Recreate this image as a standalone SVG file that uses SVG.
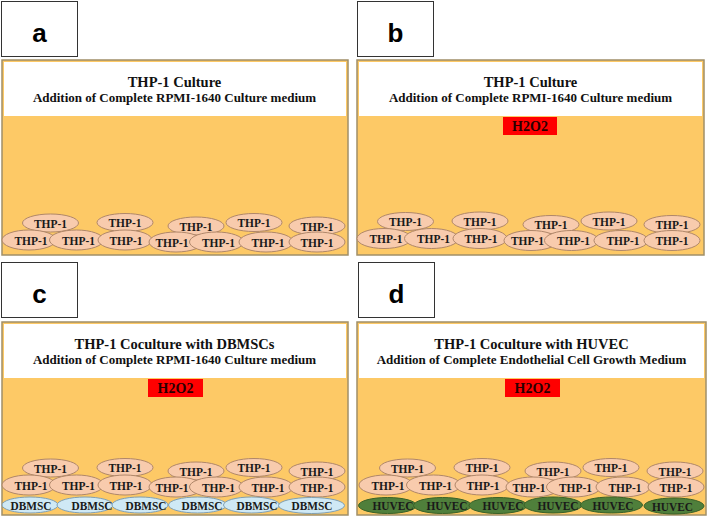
<svg xmlns="http://www.w3.org/2000/svg" width="709" height="518" viewBox="0 0 709 518">
<style>
.lbl{fill:#fff;stroke:#333;stroke-width:1}
.lt{font-family:"Liberation Sans",Arial,sans-serif;font-weight:bold;font-size:26px;fill:#000;text-anchor:middle}
.frame{fill:#fdc966;stroke:#a08f68;stroke-width:1.5}
.hdr{fill:#fff}
.t1{font-family:"Liberation Serif","Times New Roman",serif;font-weight:bold;font-size:14.5px;fill:#111;text-anchor:middle}
.t2{font-family:"Liberation Serif","Times New Roman",serif;font-weight:bold;font-size:13px;fill:#111;text-anchor:middle}
.h2o2{fill:#ff0000}
.ht{font-family:"Liberation Serif","Times New Roman",serif;font-weight:bold;font-size:14px;fill:#2a0000;text-anchor:middle}
.thp{fill:#f8cbad;stroke:#b0876a;stroke-width:1}
.dbm{fill:#cfe9f5;stroke:#7f9fb3;stroke-width:1}
.huv{fill:#4f7f3b;stroke:#3a6128;stroke-width:1}
.ct{font-family:"Liberation Serif","Times New Roman",serif;font-weight:bold;font-size:12.5px;fill:#1a1a1a;text-anchor:middle}
</style>
<g id="connectors"></g>

<g id="label-a"><rect class="lbl" x="1.5" y="1.5" width="76" height="55"/><text class="lt" x="39.5" y="42">a</text></g>
<g id="label-b"><rect class="lbl" x="357.5" y="1.5" width="76" height="55"/><text class="lt" x="395.5" y="42">b</text></g>
<g id="label-c"><rect class="lbl" x="1.5" y="262.5" width="76" height="55"/><text class="lt" x="39.5" y="303">c</text></g>
<g id="label-d"><rect class="lbl" x="358.5" y="262.5" width="76" height="55"/><text class="lt" x="396.5" y="303">d</text></g>

<!-- Panel a -->
<g id="panel-a">
<rect class="frame" x="2" y="60" width="346" height="195"/>
<rect class="hdr" x="4" y="62" width="342" height="54"/>
<text class="t1" x="174.5" y="87">THP-1 Culture</text>
<text class="t2" x="174.5" y="102">Addition of Complete RPMI-1640 Culture medium</text>
</g>
<g id="cells-a">
<g id="a-top1"><ellipse class="thp" cx="50.5" cy="223" rx="28" ry="9"/><text class="ct" x="50.5" y="227.5" textLength="33" lengthAdjust="spacingAndGlyphs">THP-1</text></g>
<g id="a-top2"><ellipse class="thp" cx="125" cy="222.5" rx="28" ry="9"/><text class="ct" x="125" y="227" textLength="33" lengthAdjust="spacingAndGlyphs">THP-1</text></g>
<g id="a-top3"><ellipse class="thp" cx="196" cy="226" rx="28" ry="9"/><text class="ct" x="196" y="230.5" textLength="33" lengthAdjust="spacingAndGlyphs">THP-1</text></g>
<g id="a-top4"><ellipse class="thp" cx="254" cy="222.5" rx="28" ry="9"/><text class="ct" x="254" y="227" textLength="33" lengthAdjust="spacingAndGlyphs">THP-1</text></g>
<g id="a-top5"><ellipse class="thp" cx="317" cy="226" rx="28" ry="9"/><text class="ct" x="317" y="230.5" textLength="33" lengthAdjust="spacingAndGlyphs">THP-1</text></g>
<g id="a-bot1"><ellipse class="thp" cx="29" cy="240" rx="27" ry="10"/><text class="ct" x="31" y="244.5" textLength="33" lengthAdjust="spacingAndGlyphs">THP-1</text></g>
<g id="a-bot2"><ellipse class="thp" cx="76.5" cy="240" rx="27" ry="10"/><text class="ct" x="78.5" y="244.5" textLength="33" lengthAdjust="spacingAndGlyphs">THP-1</text></g>
<g id="a-bot3"><ellipse class="thp" cx="125" cy="240" rx="27" ry="10"/><text class="ct" x="126" y="244.5" textLength="33" lengthAdjust="spacingAndGlyphs">THP-1</text></g>
<g id="a-bot4"><ellipse class="thp" cx="176" cy="242" rx="27" ry="10"/><text class="ct" x="172" y="246.5" textLength="33" lengthAdjust="spacingAndGlyphs">THP-1</text></g>
<g id="a-bot5"><ellipse class="thp" cx="216.5" cy="242" rx="27" ry="10"/><text class="ct" x="218.5" y="246.5" textLength="33" lengthAdjust="spacingAndGlyphs">THP-1</text></g>
<g id="a-bot6"><ellipse class="thp" cx="266" cy="242" rx="27" ry="10"/><text class="ct" x="268" y="246.5" textLength="33" lengthAdjust="spacingAndGlyphs">THP-1</text></g>
<g id="a-bot7"><ellipse class="thp" cx="317" cy="242" rx="28" ry="10"/><text class="ct" x="317" y="246.5" textLength="33" lengthAdjust="spacingAndGlyphs">THP-1</text></g>
</g>

<!-- Panel b -->
<g id="panel-b">
<rect class="frame" x="357" y="60" width="347" height="195"/>
<rect class="hdr" x="359" y="62" width="343" height="54"/>
<text class="t1" x="530.5" y="87">THP-1 Culture</text>
<text class="t2" x="530.5" y="102">Addition of Complete RPMI-1640 Culture medium</text>
</g>
<g id="h2o2-b"><rect class="h2o2" x="503" y="117" width="54" height="18"/><text class="ht" x="530" y="131">H2O2</text></g>
<g id="cells-b">
<g id="b-top1"><ellipse class="thp" cx="405.5" cy="221.5" rx="28" ry="9"/><text class="ct" x="405.5" y="226" textLength="33" lengthAdjust="spacingAndGlyphs">THP-1</text></g>
<g id="b-top2"><ellipse class="thp" cx="480" cy="221" rx="28" ry="9"/><text class="ct" x="480" y="225.5" textLength="33" lengthAdjust="spacingAndGlyphs">THP-1</text></g>
<g id="b-top3"><ellipse class="thp" cx="551" cy="224.5" rx="28" ry="9"/><text class="ct" x="551" y="229" textLength="33" lengthAdjust="spacingAndGlyphs">THP-1</text></g>
<g id="b-top4"><ellipse class="thp" cx="609" cy="221" rx="28" ry="9"/><text class="ct" x="609" y="225.5" textLength="33" lengthAdjust="spacingAndGlyphs">THP-1</text></g>
<g id="b-top5"><ellipse class="thp" cx="672" cy="224.5" rx="28" ry="9"/><text class="ct" x="672" y="229" textLength="33" lengthAdjust="spacingAndGlyphs">THP-1</text></g>
<g id="b-bot1"><ellipse class="thp" cx="384" cy="238.5" rx="27" ry="10"/><text class="ct" x="386" y="243" textLength="33" lengthAdjust="spacingAndGlyphs">THP-1</text></g>
<g id="b-bot2"><ellipse class="thp" cx="431.5" cy="238.5" rx="27" ry="10"/><text class="ct" x="433.5" y="243" textLength="33" lengthAdjust="spacingAndGlyphs">THP-1</text></g>
<g id="b-bot3"><ellipse class="thp" cx="480" cy="238.5" rx="27" ry="10"/><text class="ct" x="481" y="243" textLength="33" lengthAdjust="spacingAndGlyphs">THP-1</text></g>
<g id="b-bot4"><ellipse class="thp" cx="531" cy="240.5" rx="27" ry="10"/><text class="ct" x="527.5" y="245" textLength="33" lengthAdjust="spacingAndGlyphs">THP-1</text></g>
<g id="b-bot5"><ellipse class="thp" cx="571.5" cy="240.5" rx="27" ry="10"/><text class="ct" x="573.5" y="245" textLength="33" lengthAdjust="spacingAndGlyphs">THP-1</text></g>
<g id="b-bot6"><ellipse class="thp" cx="621" cy="240.5" rx="27" ry="10"/><text class="ct" x="623" y="245" textLength="33" lengthAdjust="spacingAndGlyphs">THP-1</text></g>
<g id="b-bot7"><ellipse class="thp" cx="672" cy="240.5" rx="28" ry="10"/><text class="ct" x="672" y="245" textLength="33" lengthAdjust="spacingAndGlyphs">THP-1</text></g>
</g>

<!-- Panel c -->
<g id="panel-c">
<rect class="frame" x="2" y="322" width="346" height="193"/>
<rect class="hdr" x="4" y="324" width="342" height="54"/>
<text class="t1" x="174.5" y="349">THP-1 Coculture with DBMSCs</text>
<text class="t2" x="174.5" y="364">Addition of Complete RPMI-1640 Culture medium</text>
</g>
<g id="h2o2-c"><rect class="h2o2" x="148" y="379" width="55" height="18"/><text class="ht" x="175.5" y="393">H2O2</text></g>
<g id="cells-c">
<g id="c-top1"><ellipse class="thp" cx="50.5" cy="468" rx="28" ry="9"/><text class="ct" x="50.5" y="472.5" textLength="33" lengthAdjust="spacingAndGlyphs">THP-1</text></g>
<g id="c-top2"><ellipse class="thp" cx="125" cy="467.5" rx="28" ry="9"/><text class="ct" x="125" y="472" textLength="33" lengthAdjust="spacingAndGlyphs">THP-1</text></g>
<g id="c-top3"><ellipse class="thp" cx="196" cy="471" rx="28" ry="9"/><text class="ct" x="196" y="475.5" textLength="33" lengthAdjust="spacingAndGlyphs">THP-1</text></g>
<g id="c-top4"><ellipse class="thp" cx="254" cy="467.5" rx="28" ry="9"/><text class="ct" x="254" y="472" textLength="33" lengthAdjust="spacingAndGlyphs">THP-1</text></g>
<g id="c-top5"><ellipse class="thp" cx="317" cy="471" rx="28" ry="9"/><text class="ct" x="317" y="475.5" textLength="33" lengthAdjust="spacingAndGlyphs">THP-1</text></g>
<g id="c-bot1"><ellipse class="thp" cx="29" cy="485" rx="27" ry="10"/><text class="ct" x="31" y="489.5" textLength="33" lengthAdjust="spacingAndGlyphs">THP-1</text></g>
<g id="c-bot2"><ellipse class="thp" cx="76.5" cy="485" rx="27" ry="10"/><text class="ct" x="78.5" y="489.5" textLength="33" lengthAdjust="spacingAndGlyphs">THP-1</text></g>
<g id="c-bot3"><ellipse class="thp" cx="125" cy="485" rx="27" ry="10"/><text class="ct" x="126" y="489.5" textLength="33" lengthAdjust="spacingAndGlyphs">THP-1</text></g>
<g id="c-bot4"><ellipse class="thp" cx="176" cy="487" rx="27" ry="10"/><text class="ct" x="172" y="491.5" textLength="33" lengthAdjust="spacingAndGlyphs">THP-1</text></g>
<g id="c-bot5"><ellipse class="thp" cx="216.5" cy="487" rx="27" ry="10"/><text class="ct" x="218.5" y="491.5" textLength="33" lengthAdjust="spacingAndGlyphs">THP-1</text></g>
<g id="c-bot6"><ellipse class="thp" cx="266" cy="487" rx="27" ry="10"/><text class="ct" x="268" y="491.5" textLength="33" lengthAdjust="spacingAndGlyphs">THP-1</text></g>
<g id="c-bot7"><ellipse class="thp" cx="317" cy="487" rx="28" ry="10"/><text class="ct" x="317" y="491.5" textLength="33" lengthAdjust="spacingAndGlyphs">THP-1</text></g>
<g id="c-dbm1"><ellipse class="dbm" cx="30" cy="505" rx="28" ry="8"/><text class="ct" x="31" y="509.5" textLength="41" lengthAdjust="spacingAndGlyphs">DBMSC</text></g>
<g id="c-dbm2"><ellipse class="dbm" cx="85" cy="505" rx="28" ry="8"/><text class="ct" x="92" y="509.5" textLength="41" lengthAdjust="spacingAndGlyphs">DBMSC</text></g>
<g id="c-dbm3"><ellipse class="dbm" cx="140" cy="505" rx="28" ry="8"/><text class="ct" x="146" y="509.5" textLength="41" lengthAdjust="spacingAndGlyphs">DBMSC</text></g>
<g id="c-dbm4"><ellipse class="dbm" cx="197.5" cy="505" rx="29" ry="8"/><text class="ct" x="202" y="509.5" textLength="41" lengthAdjust="spacingAndGlyphs">DBMSC</text></g>
<g id="c-dbm5"><ellipse class="dbm" cx="251.5" cy="505" rx="28" ry="8"/><text class="ct" x="257" y="509.5" textLength="41" lengthAdjust="spacingAndGlyphs">DBMSC</text></g>
<g id="c-dbm6"><ellipse class="dbm" cx="311.5" cy="505.5" rx="33" ry="8"/><text class="ct" x="312" y="510" textLength="41" lengthAdjust="spacingAndGlyphs">DBMSC</text></g>
</g>

<!-- Panel d -->
<g id="panel-d">
<rect class="frame" x="357" y="322" width="349" height="193"/>
<rect class="hdr" x="359" y="324" width="345" height="54"/>
<text class="t1" x="531.5" y="349">THP-1 Coculture with HUVEC</text>
<text class="t2" x="531.5" y="364">Addition of Complete Endothelial Cell Growth Medium</text>
</g>
<g id="h2o2-d"><rect class="h2o2" x="505" y="379" width="55" height="18"/><text class="ht" x="532.5" y="393">H2O2</text></g>
<g id="cells-d">
<g id="d-top1"><ellipse class="thp" cx="407.5" cy="468" rx="28" ry="9"/><text class="ct" x="407.5" y="472.5" textLength="33" lengthAdjust="spacingAndGlyphs">THP-1</text></g>
<g id="d-top2"><ellipse class="thp" cx="482" cy="467.5" rx="28" ry="9"/><text class="ct" x="482" y="472" textLength="33" lengthAdjust="spacingAndGlyphs">THP-1</text></g>
<g id="d-top3"><ellipse class="thp" cx="553" cy="471" rx="28" ry="9"/><text class="ct" x="553" y="475.5" textLength="33" lengthAdjust="spacingAndGlyphs">THP-1</text></g>
<g id="d-top4"><ellipse class="thp" cx="611" cy="467.5" rx="28" ry="9"/><text class="ct" x="611" y="472" textLength="33" lengthAdjust="spacingAndGlyphs">THP-1</text></g>
<g id="d-top5"><ellipse class="thp" cx="675" cy="471" rx="28" ry="9"/><text class="ct" x="675" y="475.5" textLength="33" lengthAdjust="spacingAndGlyphs">THP-1</text></g>
<g id="d-bot1"><ellipse class="thp" cx="386" cy="485" rx="27" ry="10"/><text class="ct" x="388" y="489.5" textLength="33" lengthAdjust="spacingAndGlyphs">THP-1</text></g>
<g id="d-bot2"><ellipse class="thp" cx="433.5" cy="485" rx="27" ry="10"/><text class="ct" x="435.5" y="489.5" textLength="33" lengthAdjust="spacingAndGlyphs">THP-1</text></g>
<g id="d-bot3"><ellipse class="thp" cx="482" cy="485" rx="27" ry="10"/><text class="ct" x="483" y="489.5" textLength="33" lengthAdjust="spacingAndGlyphs">THP-1</text></g>
<g id="d-bot4"><ellipse class="thp" cx="533" cy="487" rx="27" ry="10"/><text class="ct" x="529" y="491.5" textLength="33" lengthAdjust="spacingAndGlyphs">THP-1</text></g>
<g id="d-bot5"><ellipse class="thp" cx="573.5" cy="487" rx="27" ry="10"/><text class="ct" x="575.5" y="491.5" textLength="33" lengthAdjust="spacingAndGlyphs">THP-1</text></g>
<g id="d-bot6"><ellipse class="thp" cx="623" cy="487" rx="27" ry="10"/><text class="ct" x="625" y="491.5" textLength="33" lengthAdjust="spacingAndGlyphs">THP-1</text></g>
<g id="d-bot7"><ellipse class="thp" cx="676" cy="487" rx="28" ry="10"/><text class="ct" x="676" y="491.5" textLength="33" lengthAdjust="spacingAndGlyphs">THP-1</text></g>
<g id="d-huv1"><ellipse class="huv" cx="387.5" cy="505.5" rx="29" ry="8"/><text class="ct" x="393" y="510" textLength="41" lengthAdjust="spacingAndGlyphs">HUVEC</text></g>
<g id="d-huv2"><ellipse class="huv" cx="442.5" cy="505.5" rx="29" ry="8"/><text class="ct" x="447" y="510" textLength="41" lengthAdjust="spacingAndGlyphs">HUVEC</text></g>
<g id="d-huv3"><ellipse class="huv" cx="498" cy="505.5" rx="29" ry="8"/><text class="ct" x="503" y="510" textLength="41" lengthAdjust="spacingAndGlyphs">HUVEC</text></g>
<g id="d-huv4"><ellipse class="huv" cx="553" cy="505" rx="29" ry="8"/><text class="ct" x="558" y="509.5" textLength="41" lengthAdjust="spacingAndGlyphs">HUVEC</text></g>
<g id="d-huv5"><ellipse class="huv" cx="611.5" cy="505" rx="31" ry="8"/><text class="ct" x="613" y="509.5" textLength="41" lengthAdjust="spacingAndGlyphs">HUVEC</text></g>
<g id="d-huv6"><ellipse class="huv" cx="674" cy="506" rx="30" ry="8"/><text class="ct" x="672.5" y="510.5" textLength="41" lengthAdjust="spacingAndGlyphs">HUVEC</text></g>
</g>
</svg>
